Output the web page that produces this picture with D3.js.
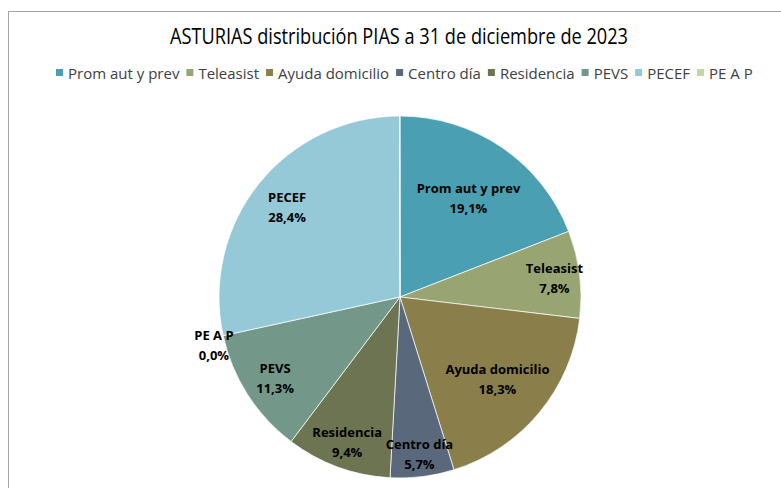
<!DOCTYPE html>
<meta charset="utf-8">
<script src="https://d3js.org/d3.v7.min.js"></script>
<style>
body { margin: 0; background: #fff; }
text { font-family: "Open Sans", sans-serif; }
.lbl { font-weight: bold; font-size: 13px; text-anchor: middle; fill: #000; }
.leg { font-size: 15px; fill: #404040; }
</style>
<svg width="781" height="488"></svg>
<script>
// data
var categories = ["Prom aut y prev", "Teleasist", "Ayuda domicilio", "Centro día", "Residencia", "PEVS", "PECEF", "PE A P"];
var values = [19.1, 7.8, 18.3, 5.7, 9.4, 11.3, 28.4, 0.04];
var shown = ["19,1%", "7,8%", "18,3%", "5,7%", "9,4%", "11,3%", "28,4%", "0,0%"];
var colors = ["#4aa0b2", "#98a572", "#8a7f4b", "#5a687c", "#6d7452", "#73988a", "#95c9d8", "#c3d4a6"];

// where each label sits, as a fraction of the radius
var labelR = [0.67, 0.86, 0.70, 0.87, 0.85, 0.82, 0.80, 1.06];

var svg = d3.select("svg"),
    cx = 400, cy = 297, radius = 181;

// chart border
svg.append("rect")
    .attr("x", 8.5).attr("y", 11.5)
    .attr("width", 800).attr("height", 500)
    .attr("fill", "none").attr("stroke", "#a6a6a6").attr("stroke-width", 1);

svg.append("text")
    .attr("x", 399).attr("y", 44)
    .attr("text-anchor", "middle")
    .attr("font-size", 21)
    .attr("fill", "#000")
    .attr("textLength", 458).attr("lengthAdjust", "spacingAndGlyphs")
    .text("ASTURIAS distribución PIAS a 31 de diciembre de 2023");

// legend
var legend = svg.append("g");
var xpos = 56;
categories.forEach(function(c, i) {
  legend.append("rect")
      .attr("x", xpos).attr("y", 69)
      .attr("width", 7).attr("height", 7)
      .attr("fill", colors[i]);
  var t = legend.append("text")
      .attr("class", "leg")
      .attr("x", xpos + 12).attr("y", 79)
      .text(c);
  xpos += 12 + t.node().getComputedTextLength() + 7;
});

var pie = d3.pie().sort(null).value(function(d) { return d; });
var arc = d3.arc().innerRadius(0).outerRadius(radius);

var g = svg.append("g").attr("transform", "translate(" + cx + "," + cy + ")");
var arcs = pie(values);

g.selectAll("path")
    .data(arcs)
    .enter().append("path")
    .attr("d", arc)
    .attr("fill", function(d, i) { return colors[i]; })
    .attr("stroke", "#fff")
    .attr("stroke-opacity", 0.7)
    .attr("stroke-width", 1);

var labels = g.selectAll(".lbl")
    .data(arcs)
    .enter().append("text")
    .attr("class", "lbl")
    .attr("transform", function(d, i) {
      var a = (d.startAngle + d.endAngle) / 2;
      // the tiny PE A P slice gets its label on the left, like the original
      if (i == 7) a = arcs[6].startAngle - 0.03;
      var r = radius * labelR[i];
      return "translate(" + (Math.sin(a) * r) + "," + (-Math.cos(a) * r) + ")";
    });

labels.append("tspan").attr("x", 0).attr("y", -4).text(function(d, i) { return categories[i]; });
labels.append("tspan").attr("x", 0).attr("y", 16).text(function(d, i) { return shown[i]; });
</script>
